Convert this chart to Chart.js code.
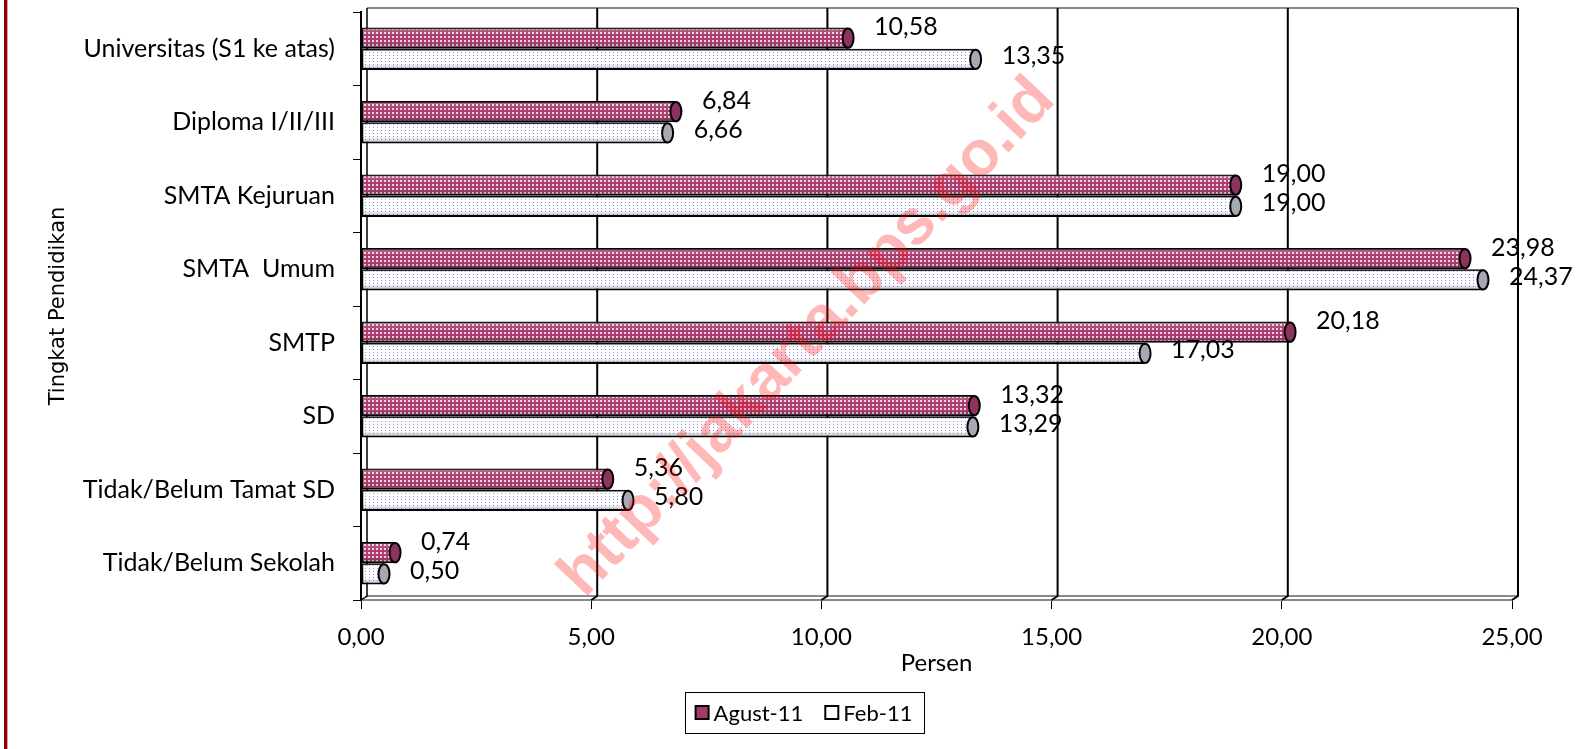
<!DOCTYPE html>
<html><head><meta charset="utf-8">
<script src="https://cdn.jsdelivr.net/npm/chart.js@4.4.1/dist/chart.umd.min.js"></script>
<style>html,body{margin:0;padding:0;background:#fff;overflow:hidden}#wrap{width:1576px;height:749px;position:relative}</style>
</head><body><div id="wrap"><canvas id="c" width="1576" height="749"></canvas></div>
<script>
const categories = ['Universitas (S1 ke atas)','Diploma I/II/III','SMTA Kejuruan','SMTA  Umum','SMTP','SD','Tidak/Belum Tamat SD','Tidak/Belum Sekolah'];
const agust11 = [10.58, 6.84, 19.00, 23.98, 20.18, 13.32, 5.36, 0.74];
const feb11 = [13.35, 6.66, 19.00, 24.37, 17.03, 13.29, 5.80, 0.50];
const seriesNames = ['Agust-11', 'Feb-11'];
const xTicks = [0, 5, 10, 15, 20, 25];
const xTitle = 'Persen';
const yTitle = 'Tingkat Pendidikan';
const watermark = 'http://jakarta.bps.go.id';

const fmt = v => Number(v).toFixed(2).replace('.', ',');
const LBL = '"Lato", "Open Sans", sans-serif';

function makePattern(base, dot, w, h, dots) {
  const c = document.createElement('canvas'); c.width = w; c.height = h;
  const g = c.getContext('2d');
  g.fillStyle = base; g.fillRect(0, 0, w, h);
  g.fillStyle = dot; dots.forEach(d => g.fillRect(d[0], d[1], d[2], d[3]));
  return g.createPattern(c, 'repeat');
}
const pinkPat = makePattern('#aa3f70', '#f6cfe0', 4, 4, [[0,0,2,2]]);
const whitePat = makePattern('#ffffff', '#8c8cf0', 4, 3, [[1,1,1,1]]);
const capColors = ['#8c3460', '#a8a8b4'];

const frame3d = {
  id: 'frame3d',
  beforeDatasetsDraw(chart) {
    const {ctx, chartArea: a, scales: {x}} = chart;
    const d = 6;
    const xr = x.getPixelForValue(xTicks[xTicks.length-1]) + d;
    ctx.save();
    ctx.strokeStyle = '#8a8a8a'; ctx.lineWidth = 2;
    ctx.beginPath(); ctx.moveTo(a.left + d, a.bottom - 4); ctx.lineTo(xr, a.bottom - 4); ctx.stroke();
    ctx.beginPath(); ctx.moveTo(a.left + d, a.top - 4); ctx.lineTo(xr, a.top - 4); ctx.stroke();
    ctx.strokeStyle = '#000';
    xTicks.forEach((v, i) => {
      const px = x.getPixelForValue(v) + d;
      ctx.lineWidth = i === 0 ? 1.5 : 2;
      ctx.beginPath(); ctx.moveTo(px, a.top - 4); ctx.lineTo(px, a.bottom - 4); ctx.lineTo(px - d, a.bottom); ctx.stroke();
    });
    ctx.restore();
  },
  afterDatasetsDraw(chart) {
    const {ctx} = chart;
    ctx.save();
    chart.data.datasets.forEach((ds, di) => {
      chart.getDatasetMeta(di).data.forEach((bar, i) => {
        const h = bar.height, top = bar.y - h / 2;
        const left = Math.min(bar.base, bar.x), w = Math.abs(bar.x - bar.base);
        const g = ctx.createLinearGradient(0, top, 0, top + h);
        g.addColorStop(0, 'rgba(255,255,255,0.25)');
        g.addColorStop(0.35, 'rgba(255,255,255,0)');
        g.addColorStop(0.7, 'rgba(0,0,0,0)');
        g.addColorStop(1, 'rgba(0,0,0,0.3)');
        ctx.fillStyle = g;
        ctx.fillRect(left + 1, top + 1, Math.max(0, w - 2), h - 2);
        ctx.beginPath();
        ctx.ellipse(bar.x, bar.y, 5.5, h / 2 - 1, 0, 0, Math.PI * 2);
        ctx.fillStyle = capColors[di]; ctx.fill();
        ctx.lineWidth = 2; ctx.strokeStyle = '#000'; ctx.stroke();
      });
    });
    ctx.font = '25px ' + LBL; ctx.fillStyle = '#000';
    ctx.textAlign = 'left'; ctx.textBaseline = 'middle';
    chart.data.datasets.forEach((ds, di) => {
      chart.getDatasetMeta(di).data.forEach((bar, i) => {
        ctx.fillText(fmt(ds.data[i]), bar.x + 26, bar.y + (di === 0 ? -11 : -3));
      });
    });
    ctx.restore();
  },
  afterDraw(chart) {
    const {ctx} = chart;
    ctx.save();
    ctx.fillStyle = '#8b0000'; ctx.fillRect(4, 0, 3, 749);
    ctx.fillStyle = '#d9a0a0'; ctx.fillRect(7, 0, 1, 749);
    // legend
    ctx.font = '22px ' + LBL; ctx.textBaseline = 'middle'; ctx.textAlign = 'left';
    const sw = 13, gap = 5, itemGap = 22, padX = 11;
    const widths = seriesNames.map(n => ctx.measureText(n).width);
    const total = padX * 2 + widths.reduce((s, w) => s + sw + gap + w, 0) + itemGap * (seriesNames.length - 1);
    const cx = 804, bx = cx - total / 2, by = 692, bh = 41;
    ctx.strokeStyle = '#000'; ctx.lineWidth = 1;
    ctx.strokeRect(Math.round(bx) + 0.5, by + 0.5, Math.round(total), bh);
    let xx = bx + padX; const cy = by + bh / 2;
    seriesNames.forEach((n, i) => {
      ctx.fillStyle = i === 0 ? '#a33a6a' : '#ffffff';
      ctx.fillRect(xx, cy - sw / 2, sw, sw);
      ctx.lineWidth = 2; ctx.strokeStyle = '#000';
      ctx.strokeRect(xx, cy - sw / 2, sw, sw);
      ctx.fillStyle = '#000';
      ctx.fillText(n, xx + sw + gap, cy + 1);
      xx += sw + gap + widths[i] + itemGap;
    });
    // watermark
    ctx.translate(808, 338);
    ctx.rotate(-46.5 * Math.PI / 180);
    ctx.font = 'bold 64px "Liberation Sans", Arial, sans-serif';
    ctx.fillStyle = 'rgba(255,0,0,0.28)';
    ctx.textAlign = 'center'; ctx.textBaseline = 'middle';
    ctx.fillText(watermark, 0, 0);
    ctx.restore();
  }
};

new Chart(document.getElementById('c'), {
  type: 'bar',
  data: {
    labels: categories,
    datasets: [
      { label: seriesNames[0], data: agust11, backgroundColor: pinkPat, borderColor: '#000', borderWidth: 2, borderSkipped: false },
      { label: seriesNames[1], data: feb11, backgroundColor: whitePat, borderColor: '#000', borderWidth: 2, borderSkipped: false }
    ]
  },
  options: {
    responsive: false, animation: false, indexAxis: 'y',
    datasets: { bar: { categoryPercentage: 0.58, barPercentage: 1.0 } },
    layout: { padding: { left: 10, right: 64, top: 12, bottom: 0 } },
    plugins: { legend: { display: false }, tooltip: { enabled: false } },
    scales: {
      x: {
        min: 0, max: 25,
        afterBuildTicks: s => { s.ticks = xTicks.map(v => ({ value: v })); },
        grid: { drawOnChartArea: false, drawTicks: true, tickLength: 9, color: '#000', lineWidth: 1 },
        border: { color: '#8a8a8a', width: 2 },
        ticks: { callback: v => fmt(v), font: { family: LBL, size: 24 }, color: '#000', padding: 14, maxRotation: 0 },
        title: { display: true, text: xTitle, font: { family: LBL, size: 24 }, color: '#000', padding: { top: 0, bottom: 71 } },
        afterFit: s => { s.height = 149; s.paddingLeft = 0; s.paddingRight = 0; }
      },
      y: {
        grid: { drawOnChartArea: false, drawTicks: true, tickLength: 8, color: '#000', offset: true },
        border: { color: '#000', width: 2 },
        ticks: { font: { family: LBL, size: 25 }, color: '#000', padding: 18 },
        title: { display: true, text: yTitle, font: { family: '"DejaVu Sans", sans-serif', size: 21 }, color: '#000', padding: { top: 36, bottom: 0 } },
        afterFit: s => { s.width = 351; s.paddingTop = 0; s.paddingBottom = 0; }
      }
    }
  },
  plugins: [frame3d]
});
</script></body></html>
